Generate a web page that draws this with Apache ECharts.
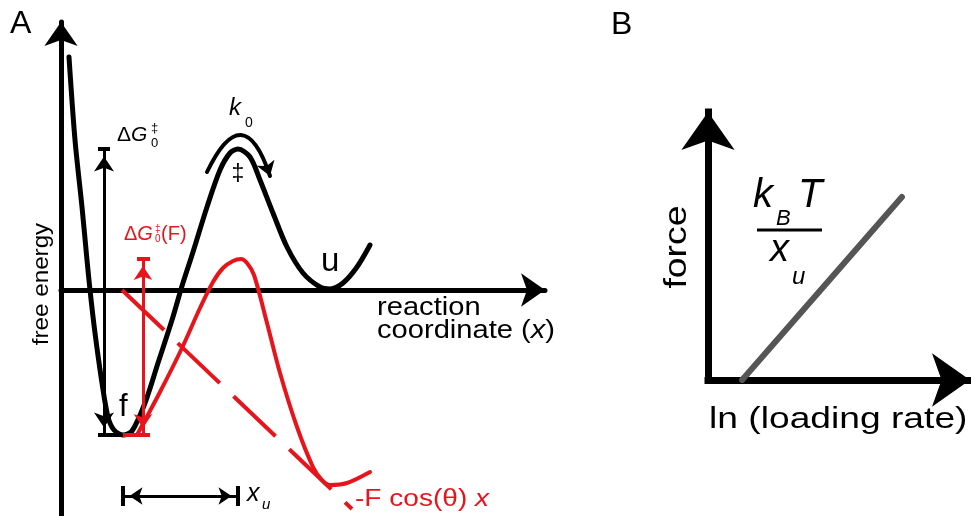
<!DOCTYPE html>
<html>
<head>
<meta charset="utf-8">
<script src="https://cdn.jsdelivr.net/npm/echarts@6/dist/echarts.min.js"></script>
<style>
  html, body { margin: 0; padding: 0; background: #fff; }
  #chart { width: 971px; height: 516px; }
</style>
</head>
<body>
<div id="chart"></div>
<script>
// ---- Panel A: free-energy landscape along the reaction coordinate ----
const landscapeX = [0.16, 0.28, 0.42, 0.52, 0.58, 0.68, 0.82, 0.94, 1.06, 1.24, 1.42, 1.68, 1.94, 2.22, 2.42,
                    2.64, 2.92, 3.18, 3.38, 3.54, 3.78, 3.98, 4.24, 4.52, 4.84, 5.18, 5.38, 5.64, 5.92, 6.18];
const landscapeG = [4.66, 3.00, 1.66, 0.60, 0.00, -0.86, -1.86, -2.54, -2.80, -2.90, -2.82, -2.26, -1.46, -0.60, 0.08,
                    0.76, 1.66, 2.40, 2.74, 2.82, 2.66, 2.20, 1.54, 0.86, 0.34, 0.06, 0.02, 0.14, 0.46, 0.90];

// landscape tilted by the applied force
const tiltedX = [1.52, 1.98, 2.42, 2.78, 3.04, 3.24, 3.44, 3.60, 3.72, 3.86, 4.12, 4.38, 4.72, 5.04, 5.22, 5.38, 5.72, 6.18];
const tiltedG = [-2.90, -2.04, -1.16, -0.36, 0.16, 0.44, 0.58, 0.62, 0.54, 0.30, -0.66, -1.66, -2.74, -3.54, -3.80, -3.90, -3.86, -3.64];

// mechanical work term  -F cos(θ) x
const workX = [1.22, 5.82];
const workG = [0, -4.38];

// ---- Panel B: rupture force versus ln(loading rate) ----
const lnRate = [1.30, 7.40];
const force = [0, 6.83];

// ---------------------------------------------------------------
const FONT = '"Liberation Sans", Arial, Helvetica, sans-serif';
const INK = '#000';
const RED = '#e8141c';

const pairs = (xs, ys) => xs.map((x, i) => [x, ys[i]]);

// landmarks of the unloaded landscape: bound well (f) and transition state (‡)
const iWell = landscapeG.indexOf(Math.min(...landscapeG));
let iTop = iWell;
for (let i = iWell; i < landscapeG.length; i++) if (landscapeG[i] > landscapeG[iTop]) iTop = i;
const wellX = landscapeX[iWell], wellG = landscapeG[iWell];
const topX = landscapeX[iTop], topG = landscapeG[iTop];
const tiltWellX = tiltedX[0], tiltWellG = tiltedG[0];
const tiltTopG = Math.max(...tiltedG);

const dG0Axis = wellX - 0.38;      // where the ΔG0‡ arrow stands
const dGFAxis = tiltWellX + 0.12;  // where the ΔG0‡(F) arrow stands
const xuLevel = -4.12;             // height of the x_u bracket

const tip = (coord, size) => ({ coord, symbol: 'arrow', symbolSize: size, symbolOffset: [0, '50%'] });
const bare = (coord, style) => ({ coord, symbol: 'none', lineStyle: style });

function label(x, y, text, size, o = {}) {
  const align = o.align || 'left';
  const style = {
    text, font: (o.italic ? 'italic ' : '') + size + 'px ' + FONT,
    fill: o.color || INK,
    align, textAlign: align, verticalAlign: 'middle', textVerticalAlign: 'middle'
  };
  if (o.rich) style.rich = o.rich;
  return { type: 'text', x, y, rotation: o.rotation || 0, scaleX: o.sx || 1, silent: true, z: 20, style };
}
const richFonts = (size, color) => ({
  n: { font: size + 'px ' + FONT, fill: color },
  i: { font: 'italic ' + size + 'px ' + FONT, fill: color }
});

const axisOff = { axisTick: { show: false }, axisLabel: { show: false }, splitLine: { show: false } };

const option = {
  animation: false,
  backgroundColor: '#fff',
  grid: [
    { left: 61, top: 22, width: 484, height: 494, outerBoundsMode: 'none' },
    { left: 708, top: 112, width: 262, height: 268, outerBoundsMode: 'none' }
  ],
  xAxis: [
    Object.assign({ gridIndex: 0, type: 'value', min: 0, max: 9.68,
      axisLine: { show: true, onZero: true, symbol: ['none', 'arrow'], symbolSize: [25, 24],
        lineStyle: { color: INK, width: 5 } } }, axisOff),
    Object.assign({ gridIndex: 1, type: 'value', min: 0, max: 10,
      axisLine: { show: true, onZero: false, symbol: ['none', 'arrow'], symbolSize: [40, 38],
        lineStyle: { color: INK, width: 7, cap: 'square' } } }, axisOff)
  ],
  yAxis: [
    Object.assign({ gridIndex: 0, type: 'value', min: -4.52, max: 5.36,
      axisLine: { show: true, onZero: true, symbol: ['none', 'arrow'], symbolSize: [25, 24],
        lineStyle: { color: INK, width: 5 } } }, axisOff),
    Object.assign({ gridIndex: 1, type: 'value', min: 0, max: 10,
      axisLine: { show: true, onZero: false, symbol: ['none', 'arrow'], symbolSize: [40, 38],
        lineStyle: { color: INK, width: 7, cap: 'square' } } }, axisOff)
  ],
  series: [
    {
      name: 'work', type: 'line', xAxisIndex: 0, yAxisIndex: 0, z: 2,
      data: pairs(workX, workG), showSymbol: false, silent: true,
      lineStyle: { color: RED, width: 4, type: [58, 19] }
    },
    {
      name: 'tilted', type: 'line', xAxisIndex: 0, yAxisIndex: 0, z: 3,
      data: pairs(tiltedX, tiltedG), showSymbol: false, silent: true,
      smooth: 0.3,
      lineStyle: { color: RED, width: 4, cap: 'round', join: 'round' },
      markLine: {
        silent: true, animation: false, label: { show: false }, symbol: 'none',
        lineStyle: { color: RED, width: 3, type: 'solid' },
        data: [
          [tip([dGFAxis, tiltWellG], [14, 14]), tip([dGFAxis, tiltTopG], [14, 14])],
          [bare([tiltWellX, tiltTopG], { width: 4 }), bare([tiltWellX + 0.26, tiltTopG])],
          [bare([wellX, tiltWellG], { width: 4 }), bare([tiltWellX + 0.26, tiltWellG])]
        ]
      }
    },
    {
      name: 'landscape', type: 'line', xAxisIndex: 0, yAxisIndex: 0, z: 4,
      data: pairs(landscapeX, landscapeG), showSymbol: false, silent: true,
      smooth: 0.3,
      lineStyle: { color: INK, width: 5, cap: 'round', join: 'round' },
      markLine: {
        silent: true, animation: false, label: { show: false }, symbol: 'none',
        lineStyle: { color: INK, width: 3, type: 'solid' },
        data: [
          [tip([dG0Axis, wellG], [15, 15]), tip([dG0Axis, topG], [15, 15])],
          [bare([dG0Axis - 0.12, topG], { width: 4 }), bare([dG0Axis + 0.12, topG])],
          [bare([dG0Axis - 0.12, wellG], { width: 4 }), bare([wellX, wellG])],
          [tip([wellX, xuLevel], [13, 13]), tip([topX, xuLevel], [13, 13])],
          [bare([wellX, xuLevel + 0.2], { width: 4 }), bare([wellX, xuLevel - 0.2])],
          [bare([topX, xuLevel + 0.2], { width: 4 }), bare([topX, xuLevel - 0.2])]
        ]
      }
    },
    {
      // k0: crossing over the barrier
      name: 'k0', type: 'lines', coordinateSystem: 'cartesian2d', xAxisIndex: 0, yAxisIndex: 0, z: 5,
      silent: true, symbol: ['none', 'arrow'], symbolSize: 14,
      lineStyle: { color: INK, width: 4, opacity: 1, curveness: 1.24, cap: 'round' },
      data: [{ coords: [[topX - 0.62, topG - 0.46], [topX + 0.64, topG - 0.54]] }]
    },
    {
      name: 'Bell', type: 'line', xAxisIndex: 1, yAxisIndex: 1, z: 3,
      data: pairs(lnRate, force), showSymbol: false, silent: true,
      lineStyle: { color: '#555', width: 6, cap: 'round' }
    }
  ],
  graphic: [
    label(10, 24, 'A', 32),
    label(611, 25, 'B', 32),

    // panel A annotations
    label(229, 108, 'k', 24, { italic: true }),
    label(245, 123, '0', 14),
    label(238, 175, '‡', 23, { align: 'center' }),

    label(117, 135, '{n|Δ}{i|G}', 21, { rich: richFonts(21, INK) }),
    label(151, 128, '‡', 13),
    label(151, 143, '0', 13),

    label(124, 234, '{n|Δ}{i|G}', 20, { rich: richFonts(20, RED), color: RED }),
    label(155, 229, '‡', 10, { color: RED }),
    label(155, 239, '0', 10, { color: RED }),
    label(161, 234, '(F)', 20, { color: RED }),

    label(119, 407, 'f', 31),
    label(321, 262, 'u', 33),

    label(377, 308, 'reaction', 26, { sx: 1.12 }),
    label(377, 331, '{n|coordinate (}{i|x}{n|)}', 26, { sx: 1.12, rich: richFonts(26, INK) }),

    label(42, 284, 'free energy', 22, { align: 'center', rotation: Math.PI / 2, sx: 1.1 }),

    label(247, 494, 'x', 25, { italic: true }),
    label(262, 505, 'u', 15, { italic: true }),

    label(355, 500, '{n|-F cos(θ) }{i|x}', 23, { sx: 1.22, color: RED, rich: richFonts(23, RED) }),

    // panel B annotations
    label(677, 247, 'force', 32, { align: 'center', rotation: Math.PI / 2, sx: 1.17 }),
    label(709, 420, 'ln (loading rate)', 30, { sx: 1.24 }),
    label(753, 196, 'k', 40, { italic: true }),
    label(776, 219, 'B', 22, { italic: true }),
    label(798, 196, 'T', 40, { italic: true }),
    { type: 'line', silent: true, z: 20, shape: { x1: 757, y1: 230, x2: 822, y2: 230 },
      style: { stroke: INK, lineWidth: 3 } },
    label(770, 250, 'x', 38, { italic: true }),
    label(792, 277, 'u', 24, { italic: true })
  ]
};

const chart = echarts.init(document.getElementById('chart'), null, { renderer: 'canvas' });
chart.setOption(option);
</script>
</body>
</html>
